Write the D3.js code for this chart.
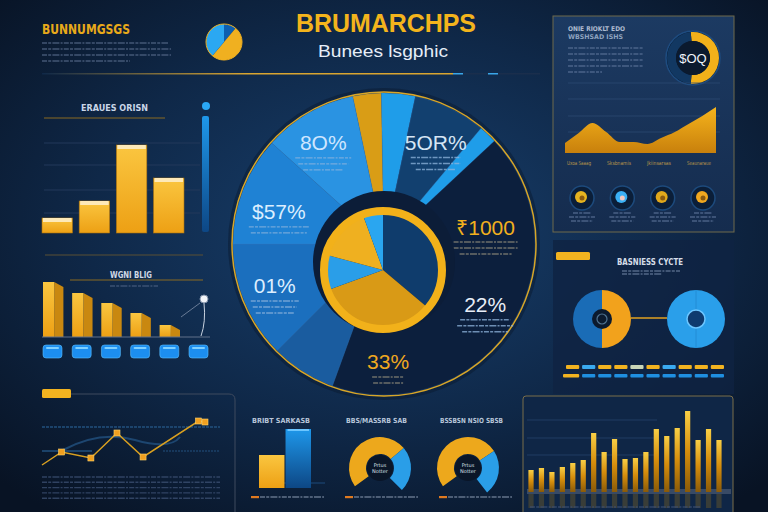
<!DOCTYPE html>
<html>
<head>
<meta charset="utf-8">
<script src="https://cdn.jsdelivr.net/npm/d3@7"></script>
<style>
body { margin: 0; background: #0a1730; }
svg { display: block; }
</style>
</head>
<body>
<svg id="chart" width="768" height="512"></svg>
<script>
// ---- data ----
var mainTitle = "BRUMARCHPS";
var subTitle = "Bunees lsgphic";
var cornerTitle = "BUNNUMGSGS";

var mainSegments = [11, 13, 28, 7, 153, 25, 45, 42, 36];
var mainColors = ["#d99d16", "#1f9de9", "#12406f", "#1f9de9", "#0c1f3d", "#1a5c9f", "#1b6fbe", "#1f82d4", "#2a93e2"];
var innerSegments = [130, 120, 35, 55, 20];
var innerColors = ["#0f3c6c", "#d99a16", "#2a9ee8", "#efb020", "#2aa6f0"];
var pieLabels = ["8O%", "5OR%", "$57%", "01%", "₹1000", "22%", "33%"];

var cornerPie = [40, 180, 140];
var cornerPieColors = ["#0d5fb0", "#f0b020", "#2ba8f2"];

var revenueBars = [15, 32, 88, 55];
var declineBars = [55, 44, 34, 24, 12];
var declineIcons = [1, 2, 3, 4, 5, 6];

var areaValues = [10, 20, 30, 21, 11, 11, 9, 15, 21, 29, 37, 46];
var areaLabels = ["Uxoa Saaag", "Sksbnamis", "Jkiinsarsas", "Seaunaraue"];
var iconColors = ["#e6b420", "#3ab0f5", "#e0a81c", "#f0a820"];

var cycleShares = [50, 50];
var cycleRow1 = ["#f2b320", "#3aaaf0", "#f2b320", "#f2b320", "#c9d6b8", "#f2b320", "#3aaaf0", "#f2b320", "#f2b320", "#f2b320"];
var cycleRow2 = ["#f2b320", "#1f8fe0", "#1f8fe0", "#1f8fe0", "#1f8fe0", "#1f8fe0", "#1f8fe0", "#1f8fe0", "#1f8fe0", "#1f8fe0"];

var trendX = [0, 12, 30, 46, 62, 96, 100];
var trendY = [5, 18, 12, 37, 13, 49, 48];

var miniBars = [33, 59];
var gaugeA = [176, 85];
var gaugeB = [183, 85];
var bottomTitles = ["BRIBT SARKASB", "BBS/MASSRB SAB", "BSSBSN NSIO SBSB"];

var monthlyBars = [22, 24, 20, 25, 29, 32, 59, 40, 53, 33, 34, 40, 63, 56, 64, 81, 52, 63, 52];

// ---- drawing ----
var svg = d3.select("#chart");
var defs = svg.append("defs");
var rad = Math.PI / 180;

function linGrad(id, stops, x2, y2) {
    var g = defs.append("linearGradient").attr("id", id)
        .attr("x1", 0).attr("y1", 0).attr("x2", x2).attr("y2", y2);
    stops.forEach(function(s, i) {
        g.append("stop").attr("offset", (i / (stops.length - 1) * 100) + "%").attr("stop-color", s);
    });
}

var bg = defs.append("radialGradient").attr("id", "bg").attr("cx", "50%").attr("cy", "45%").attr("r", "70%");
bg.append("stop").attr("offset", "0%").attr("stop-color", "#18406e");
bg.append("stop").attr("offset", "55%").attr("stop-color", "#0f2848");
bg.append("stop").attr("offset", "100%").attr("stop-color", "#081324");

linGrad("goldV", ["#fac640", "#eda014"], 0, 1);
linGrad("goldBar", ["#f9cf45", "#d58d0c", "#8a5a08"], 0, 1);
linGrad("areaGold", ["#f6b41c", "#c8800c"], 0, 1);
linGrad("blueV", ["#1e97ea", "#0d4785"], 0, 1);
linGrad("goldLine", ["#0f2848", "#d9a530", "#d9a530"], 1, 0);
linGrad("panelTR", ["#1c3a62", "#152c4e"], 0, 1);

svg.append("rect").attr("width", 768).attr("height", 512).attr("fill", "url(#bg)");

// small unreadable print, drawn as dashed strokes
function smallPrint(g, x, y, widths, color, gap, anchor) {
    g.selectAll(null).data(widths).enter().append("line")
        .attr("x1", function(d) { return anchor === "middle" ? x - d / 2 : x; })
        .attr("x2", function(d) { return anchor === "middle" ? x + d / 2 : x + d; })
        .attr("y1", function(d, i) { return y + i * gap; })
        .attr("y2", function(d, i) { return y + i * gap; })
        .attr("stroke", color).attr("stroke-width", 1.4).attr("stroke-opacity", 0.75)
        .attr("stroke-dasharray", "5 1.2 3 1.2 7 1.2 2 1.2");
}

// ---- header ----
svg.append("text").attr("x", 386).attr("y", 32).attr("text-anchor", "middle")
    .attr("font-family", "Liberation Sans").attr("font-weight", "bold").attr("font-size", 25)
    .attr("textLength", 180).attr("lengthAdjust", "spacingAndGlyphs")
    .attr("fill", "#f3b41c").text(mainTitle);
svg.append("text").attr("x", 383).attr("y", 57).attr("text-anchor", "middle")
    .attr("font-family", "Liberation Sans").attr("font-size", 17)
    .attr("textLength", 130).attr("lengthAdjust", "spacingAndGlyphs")
    .attr("fill", "#e6eef8").text(subTitle);

svg.append("text").attr("x", 42).attr("y", 34)
    .attr("font-family", "DejaVu Sans Condensed").attr("font-weight", "bold").attr("font-size", 14)
    .attr("textLength", 88).attr("lengthAdjust", "spacingAndGlyphs")
    .attr("fill", "#e8a91a").text(cornerTitle);
smallPrint(svg, 42, 43, [126, 129, 129, 88], "#56698a", 6, "start");

svg.append("rect").attr("x", 42).attr("y", 73).attr("width", 411).attr("height", 1.5).attr("fill", "url(#goldLine)");
svg.append("rect").attr("x", 453).attr("y", 73).attr("width", 10).attr("height", 1.5).attr("fill", "#3aa6e8");
svg.append("rect").attr("x", 463).attr("y", 73).attr("width", 25).attr("height", 1.5).attr("fill", "#1a2e4c");
svg.append("rect").attr("x", 488).attr("y", 73).attr("width", 10).attr("height", 1.5).attr("fill", "#3aa6e8");
svg.append("rect").attr("x", 498).attr("y", 73).attr("width", 42).attr("height", 1.5).attr("fill", "#1a2e4c");

var cornerArc = d3.arc().innerRadius(0).outerRadius(18);
var gCorner = svg.append("g").attr("transform", "translate(224,42)");
gCorner.selectAll("path").data(d3.pie().sort(null)(cornerPie)).enter().append("path")
    .attr("d", cornerArc).attr("fill", function(d, i) { return cornerPieColors[i]; });
gCorner.append("circle").attr("r", 18).attr("fill", "none").attr("stroke", "#f0b020").attr("stroke-width", 1);

// ---- left bar chart ----
var gLeft = svg.append("g");
gLeft.append("text").attr("x", 81).attr("y", 111)
    .attr("font-family", "DejaVu Sans Condensed").attr("font-weight", "bold").attr("font-size", 9)
    .attr("textLength", 67).attr("lengthAdjust", "spacingAndGlyphs")
    .attr("fill", "#c9d6e8").text("ERAUES ORISN");
gLeft.append("line").attr("x1", 44).attr("x2", 165).attr("y1", 118).attr("y2", 118)
    .attr("stroke", "#8a6a22").attr("stroke-width", 1);

var xRev = d3.scaleBand().domain(d3.range(revenueBars.length)).range([42, 184]).paddingInner(0.18);
var yRev = d3.scaleLinear().domain([0, 100]).range([233, 133]);
gLeft.selectAll(".grid").data([20, 43, 68, 90]).enter().append("line")
    .attr("x1", 44).attr("x2", 200)
    .attr("y1", function(d) { return yRev(d); }).attr("y2", function(d) { return yRev(d); })
    .attr("stroke", "#22385a").attr("stroke-width", 1);
gLeft.selectAll(".bar").data(revenueBars).enter().append("rect")
    .attr("x", function(d, i) { return xRev(i); })
    .attr("y", function(d) { return yRev(d); })
    .attr("width", xRev.bandwidth())
    .attr("height", function(d) { return yRev(0) - yRev(d); })
    .attr("fill", "url(#goldV)").attr("stroke", "#a87010").attr("stroke-width", 0.6);
gLeft.selectAll(".cap").data(revenueBars).enter().append("rect")
    .attr("x", function(d, i) { return xRev(i) + 1; })
    .attr("y", function(d) { return yRev(d); })
    .attr("width", xRev.bandwidth() - 2).attr("height", 4)
    .attr("fill", "#fde9b8");
gLeft.append("rect").attr("x", 202).attr("y", 116).attr("width", 7).attr("height", 116)
    .attr("rx", 2).attr("fill", "url(#blueV)");
gLeft.append("circle").attr("cx", 206).attr("cy", 106).attr("r", 4).attr("fill", "#2aa8f5");

// ---- declining 3D bars ----
var gDec = svg.append("g");
gDec.append("line").attr("x1", 45).attr("x2", 203).attr("y1", 255).attr("y2", 255)
    .attr("stroke", "#5a5034").attr("stroke-width", 1);
gDec.append("line").attr("x1", 70).attr("x2", 203).attr("y1", 280).attr("y2", 280)
    .attr("stroke", "#8a6a22").attr("stroke-width", 1);
gDec.append("text").attr("x", 110).attr("y", 278)
    .attr("font-family", "DejaVu Sans Condensed").attr("font-weight", "bold").attr("font-size", 9)
    .attr("textLength", 42).attr("lengthAdjust", "spacingAndGlyphs")
    .attr("fill", "#d0d8e4").text("WGNI BLIG");
smallPrint(gDec, 110, 286, [48], "#4a5f80", 5, "start");

var xDec = d3.scaleBand().domain(d3.range(declineBars.length)).range([43, 180]).paddingInner(0.3);
var yDec = d3.scaleLinear().domain([0, 60]).range([337, 277]);
var bw = xDec.bandwidth();
gDec.selectAll(".side").data(declineBars).enter().append("path")
    .attr("d", function(d, i) {
        var x0 = xDec(i) + bw * 0.55, x1 = xDec(i) + bw, y0 = yDec(d);
        return "M" + x0 + "," + y0 + "L" + x1 + "," + (y0 + 5) + "L" + x1 + "," + yDec(0) + "L" + x0 + "," + yDec(0) + "Z";
    })
    .attr("fill", "#c98810");
gDec.selectAll(".front").data(declineBars).enter().append("rect")
    .attr("x", function(d, i) { return xDec(i); })
    .attr("y", function(d) { return yDec(d); })
    .attr("width", bw * 0.55)
    .attr("height", function(d) { return yDec(0) - yDec(d); })
    .attr("fill", "url(#goldV)");
gDec.append("line").attr("x1", 42).attr("x2", 210).attr("y1", 337).attr("y2", 337)
    .attr("stroke", "#60708a").attr("stroke-width", 1);

var xIcon = d3.scaleBand().domain(declineIcons).range([43, 208]).paddingInner(0.35);
gDec.selectAll(".icon").data(declineIcons).enter().append("rect")
    .attr("x", function(d) { return xIcon(d); }).attr("y", 345)
    .attr("width", xIcon.bandwidth()).attr("height", 13).attr("rx", 3)
    .attr("fill", "#1c8ef0").attr("stroke", "#5cc0ff").attr("stroke-width", 0.6);
gDec.selectAll(".iconTop").data(declineIcons).enter().append("rect")
    .attr("x", function(d) { return xIcon(d) + 3; }).attr("y", 347)
    .attr("width", xIcon.bandwidth() - 6).attr("height", 2).attr("rx", 1)
    .attr("fill", "#7fd0ff");
gDec.append("line").attr("x1", 181).attr("y1", 317).attr("x2", 200).attr("y2", 303)
    .attr("stroke", "#7f8fa8").attr("stroke-width", 0.8);
gDec.append("path").attr("d", "M204,303 Q206,322 201,336")
    .attr("fill", "none").attr("stroke", "#c8d2e0").attr("stroke-width", 1);
gDec.append("circle").attr("cx", 204).attr("cy", 299).attr("r", 4)
    .attr("fill", "#f2f4f8").attr("stroke", "#8090a8");

// ---- central pie ----
var cx = 384, cy = 244;
var pieMain = d3.pie().sort(null).startAngle(-12 * rad).endAngle(348 * rad);
var arcMain = d3.arc().innerRadius(0).outerRadius(151);
var gMain = svg.append("g").attr("transform", "translate(" + cx + "," + cy + ")");
gMain.append("circle").attr("r", 156).attr("fill", "#0a1a30").attr("opacity", 0.5);
gMain.selectAll("path").data(pieMain(mainSegments)).enter().append("path")
    .attr("d", arcMain).attr("fill", function(d, i) { return mainColors[i]; })
    .attr("stroke", "#3a7cc0").attr("stroke-width", 0.4).attr("stroke-opacity", 0.6);
gMain.append("circle").attr("r", 152).attr("fill", "none").attr("stroke", "#d8a628").attr("stroke-width", 1.5);

var labelSpots = [
    { a: -31, r: 118, c: "#cfe6ff", lines: [56, 50, 40] },
    { a: 27, r: 114, c: "#d6e6f5", lines: [50, 50, 40] },
    { a: -73, r: 110, c: "#dbeeff", lines: [60, 56] },
    { a: -111, r: 117, c: "#dbeeff", lines: [48, 44, 38] },
    { a: 80.5, r: 103, c: "#f2b01e", lines: [64, 64, 52] },
    { a: 121, r: 118, c: "#e8eef8", lines: [50, 56, 46] },
    { a: 178, r: 118, c: "#f0a820", lines: [32, 30] }
];
labelSpots.forEach(function(s, i) {
    var lx = s.r * Math.sin(s.a * rad), ly = -s.r * Math.cos(s.a * rad);
    gMain.append("text").attr("x", lx).attr("y", ly).attr("dy", "0.36em")
        .attr("text-anchor", "middle").attr("font-family", "Liberation Sans")
        .attr("font-size", 21).attr("fill", s.c).text(pieLabels[i]);
    smallPrint(gMain, lx, ly + 15, s.lines, i === 4 || i === 6 ? "#8c8a7a" : "#8fb4dc", 6, "middle");
});

// inner pie with gold ring
var ix = 383, iy = 270;
svg.append("circle").attr("cx", 384).attr("cy", 262).attr("r", 71).attr("fill", "#0c1d38");
var gInner = svg.append("g").attr("transform", "translate(" + ix + "," + iy + ")");
var arcInner = d3.arc().innerRadius(0).outerRadius(57);
gInner.selectAll("path").data(d3.pie().sort(null)(innerSegments)).enter().append("path")
    .attr("d", arcInner).attr("fill", function(d, i) { return innerColors[i]; });
gInner.append("circle").attr("r", 59).attr("fill", "none").attr("stroke", "#f2b11a").attr("stroke-width", 8);

// ---- top right panel ----
var gTR = svg.append("g");
gTR.append("rect").attr("x", 553).attr("y", 16).attr("width", 181).attr("height", 216)
    .attr("fill", "url(#panelTR)").attr("stroke", "#6f6a4c").attr("stroke-width", 1);
gTR.append("text").attr("x", 568).attr("y", 31).attr("font-family", "DejaVu Sans Condensed")
    .attr("font-weight", "bold").attr("font-size", 6.5).attr("textLength", 57).attr("lengthAdjust", "spacingAndGlyphs")
    .attr("fill", "#aebbd0").text("ONIE RIOKLT EDO");
gTR.append("text").attr("x", 568).attr("y", 39).attr("font-family", "DejaVu Sans Condensed")
    .attr("font-weight", "bold").attr("font-size", 6.5).attr("textLength", 55).attr("lengthAdjust", "spacingAndGlyphs")
    .attr("fill", "#8ea3bf").text("WBSHSAD ISHS");
smallPrint(gTR, 568, 48, [75, 75, 75, 75, 34], "#5b7398", 6, "start");

var gDonut = gTR.append("g").attr("transform", "translate(693,58)");
gDonut.append("circle").attr("r", 27).attr("fill", "#0a1b33").attr("stroke", "#1e4c80").attr("stroke-width", 1.5);
gDonut.append("path").attr("d", d3.arc().innerRadius(17).outerRadius(26).startAngle(-5 * rad).endAngle(185 * rad)())
    .attr("fill", "#f2b11a");
gDonut.append("path").attr("d", d3.arc().innerRadius(17).outerRadius(26).startAngle(185 * rad).endAngle(355 * rad)())
    .attr("fill", "#123862");
gDonut.append("circle").attr("r", 17).attr("fill", "#0b1a2e");
gDonut.append("text").attr("y", 5).attr("text-anchor", "middle").attr("font-family", "Liberation Sans")
    .attr("font-size", 13).attr("fill", "#f0f4fa").text("$OQ");

var xArea = d3.scaleLinear().domain([0, areaValues.length - 1]).range([565, 716]);
var yArea = d3.scaleLinear().domain([0, 50]).range([153, 103]);
gTR.selectAll(".grid").data([70, 54, 37, 21]).enter().append("line")
    .attr("x1", 568).attr("x2", 720)
    .attr("y1", function(d) { return yArea(d); }).attr("y2", function(d) { return yArea(d); })
    .attr("stroke", "#2c4a72").attr("stroke-width", 0.8);
var area = d3.area().x(function(d, i) { return xArea(i); }).y0(yArea(0)).y1(function(d) { return yArea(d); })
    .curve(d3.curveMonotoneX);
gTR.append("path").datum(areaValues).attr("d", area).attr("fill", "url(#areaGold)");
var xAreaLab = d3.scalePoint().domain(areaLabels).range([579, 699]);
gTR.selectAll(".alab").data(areaLabels).enter().append("text")
    .attr("x", function(d) { return xAreaLab(d); }).attr("y", 165).attr("text-anchor", "middle")
    .attr("font-family", "DejaVu Sans Condensed").attr("font-size", 5.5)
    .attr("textLength", 24).attr("lengthAdjust", "spacingAndGlyphs")
    .attr("fill", "#b8954a").text(function(d) { return d; });

var xIc = d3.scalePoint().domain(d3.range(iconColors.length)).range([582, 703]);
var gIc = gTR.selectAll(".ic").data(iconColors).enter().append("g")
    .attr("transform", function(d, i) { return "translate(" + xIc(i) + ",198)"; });
gIc.append("circle").attr("r", 12).attr("fill", "#0b1e38").attr("stroke", "#1d4a7c").attr("stroke-width", 1.5);
gIc.append("circle").attr("r", 6).attr("cx", -1).attr("cy", -1).attr("fill", function(d) { return d; });
gIc.append("circle").attr("r", 2.5).attr("cx", 0).attr("cy", 0)
    .attr("fill", function(d, i) { return i === 1 ? "#f0c8c0" : "#8a5a10"; });
iconColors.forEach(function(c, i) {
    smallPrint(gTR, xIc(i), 213, [18, 26, 22], "#5b7398", 4, "middle");
});

// ---- business cycle panel ----
var gBC = svg.append("g");
gBC.append("rect").attr("x", 553).attr("y", 240).attr("width", 181).attr("height", 154)
    .attr("fill", "#0f2342").attr("fill-opacity", 0.8);
gBC.append("rect").attr("x", 556).attr("y", 252).attr("width", 34).attr("height", 8).attr("rx", 1.5)
    .attr("fill", "#f2b320");
gBC.append("text").attr("x", 617).attr("y", 265).attr("font-family", "DejaVu Sans Condensed")
    .attr("font-weight", "bold").attr("font-size", 8).attr("textLength", 66).attr("lengthAdjust", "spacingAndGlyphs")
    .attr("fill", "#d5dde8").text("BASNIESS CYCTE");
smallPrint(gBC, 622, 271, [58, 40], "#6a7f9e", 3, "start");

gBC.append("line").attr("x1", 631).attr("x2", 667).attr("y1", 318).attr("y2", 318)
    .attr("stroke", "#e0a020").attr("stroke-width", 1.5);
var arcCycle = d3.arc().innerRadius(0).outerRadius(29);
var gCyc = gBC.append("g").attr("transform", "translate(602,319)");
gCyc.selectAll("path").data(d3.pie().sort(null)(cycleShares)).enter().append("path")
    .attr("d", arcCycle).attr("fill", function(d, i) { return i === 0 ? "#f2a21c" : "#1a6cb6"; });
gCyc.append("circle").attr("r", 10).attr("fill", "#0b1a2e");
gCyc.append("circle").attr("r", 5).attr("fill", "none").attr("stroke", "#4f7290").attr("stroke-width", 1.2);
var gCyc2 = gBC.append("g").attr("transform", "translate(696,319)");
gCyc2.append("circle").attr("r", 29).attr("fill", "#2a9fea");
gCyc2.append("line").attr("y1", -29).attr("y2", 29).attr("stroke", "#2288d0").attr("stroke-width", 0.8);
gCyc2.append("circle").attr("r", 9).attr("fill", "#0e3a6e").attr("stroke", "#6cc6ff").attr("stroke-width", 1.5);

var xRow = d3.scaleBand().domain(d3.range(cycleRow1.length)).range([566, 724]).paddingInner(0.18);
gBC.selectAll(".r1").data(cycleRow1).enter().append("rect")
    .attr("x", function(d, i) { return xRow(i); }).attr("y", 365)
    .attr("width", xRow.bandwidth()).attr("height", 4).attr("rx", 1)
    .attr("fill", function(d) { return d; });
gBC.selectAll(".r2").data(cycleRow2).enter().append("rect")
    .attr("x", function(d, i) { return xRow(i) - (i === 0 ? 3 : 0); }).attr("y", 374)
    .attr("width", function(d, i) { return xRow.bandwidth() + (i === 0 ? 3 : 0); }).attr("height", 3.5).attr("rx", 1)
    .attr("fill", function(d) { return d; });

// ---- bottom left trend ----
var gTrend = svg.append("g");
gTrend.append("path").attr("d", "M70,394 L229,394 Q235,394 235,400 L235,512")
    .attr("fill", "none").attr("stroke", "#3e4a5e").attr("stroke-width", 1);
gTrend.append("rect").attr("x", 42).attr("y", 389).attr("width", 29).attr("height", 9).attr("rx", 1.5)
    .attr("fill", "#f2b320");
var xTrend = d3.scaleLinear().domain([0, 100]).range([42, 205]);
var yTrend = d3.scaleLinear().domain([0, 60]).range([470, 410]);
gTrend.append("line").attr("x1", 42).attr("x2", 220).attr("y1", 427).attr("y2", 427)
    .attr("stroke", "#22507e").attr("stroke-width", 1.5).attr("stroke-dasharray", "3 1");
gTrend.append("line").attr("x1", 42).attr("x2", 92).attr("y1", 451).attr("y2", 451)
    .attr("stroke", "#22507e").attr("stroke-width", 1.5);
gTrend.append("line").attr("x1", 163).attr("x2", 220).attr("y1", 451).attr("y2", 451)
    .attr("stroke", "#22507e").attr("stroke-width", 1.2).attr("stroke-dasharray", "2 1");
gTrend.append("path").attr("d", "M63,450 Q100,430 135,440 T180,437")
    .attr("fill", "none").attr("stroke", "#1d4670").attr("stroke-width", 2);
var trendLine = d3.line().x(function(d, i) { return xTrend(trendX[i]); }).y(function(d) { return yTrend(d); });
gTrend.append("path").datum(trendY).attr("d", trendLine)
    .attr("fill", "none").attr("stroke", "#d9a020").attr("stroke-width", 1.5);
gTrend.selectAll(".mk").data(trendY).enter().append("rect")
    .attr("x", function(d, i) { return xTrend(trendX[i]) - 3; })
    .attr("y", function(d) { return yTrend(d) - 3; })
    .attr("width", 6).attr("height", 6)
    .attr("fill", "#f0a020").attr("stroke", "#ffd26a").attr("stroke-width", 0.6)
    .attr("opacity", function(d, i) { return i === 0 ? 0 : 1; });
smallPrint(gTrend, 42, 477, [178, 178, 178, 178, 178], "#3d5274", 5.3, "start");

// ---- bottom middle minis ----
var gMini = svg.append("g");
var titleX = [252, 346, 440];
bottomTitles.forEach(function(t, i) {
    gMini.append("text").attr("x", titleX[i]).attr("y", 423)
        .attr("font-family", "DejaVu Sans Condensed").attr("font-weight", "bold").attr("font-size", 7)
        .attr("textLength", [58, 61, 63][i]).attr("lengthAdjust", "spacingAndGlyphs")
        .attr("fill", "#b8c6da").text(t);
    gMini.append("rect").attr("x", titleX[i] - 1).attr("y", 496).attr("width", 8).attr("height", 2.2)
        .attr("fill", "#e07a20");
    smallPrint(gMini, titleX[i] + 8, 497, [64], "#8090a8", 4, "start");
});
var xMini = d3.scaleBand().domain(d3.range(miniBars.length)).range([259, 311]).paddingInner(0.04);
var yMini = d3.scaleLinear().domain([0, 60]).range([488, 428]);
gMini.append("line").attr("x1", 272).attr("x2", 325).attr("y1", 483).attr("y2", 483)
    .attr("stroke", "#1d4a7c").attr("stroke-width", 1);
gMini.selectAll(".mb").data(miniBars).enter().append("rect")
    .attr("x", function(d, i) { return xMini(i); })
    .attr("y", function(d) { return yMini(d); })
    .attr("width", xMini.bandwidth())
    .attr("height", function(d) { return yMini(0) - yMini(d); })
    .attr("fill", function(d, i) { return i === 0 ? "url(#goldV)" : "url(#blueV)"; });
gMini.append("rect").attr("x", xMini(1) + 2).attr("y", yMini(miniBars[1])).attr("width", xMini.bandwidth() - 4)
    .attr("height", 2).attr("fill", "#6cc6ff");

function gauge(g, x, y, vals) {
    var p = d3.pie().sort(null).startAngle(-126 * rad).endAngle((-126 + d3.sum(vals)) * rad);
    var a = d3.arc().innerRadius(14).outerRadius(31);
    var gg = g.append("g").attr("transform", "translate(" + x + "," + y + ")");
    gg.selectAll("path").data(p(vals)).enter().append("path")
        .attr("d", a).attr("fill", function(d, i) { return i === 0 ? "#eda81c" : "#2a9ee8"; });
    gg.append("circle").attr("r", 13).attr("fill", "#0a1628");
    gg.append("text").attr("y", -1).attr("text-anchor", "middle").attr("font-family", "DejaVu Sans")
        .attr("font-size", 5).attr("fill", "#d8e0ea").text("Prtus");
    gg.append("text").attr("y", 5).attr("text-anchor", "middle").attr("font-family", "DejaVu Sans")
        .attr("font-size", 5).attr("fill", "#d8e0ea").text("Notter");
}
gauge(gMini, 380, 468, gaugeA);
gauge(gMini, 468, 468, gaugeB);

// ---- bottom right monthly bars ----
var gMon = svg.append("g");
gMon.append("rect").attr("x", 523).attr("y", 396).attr("width", 210).attr("height", 120).attr("rx", 3)
    .attr("fill", "#0f2646").attr("stroke", "#7a6e4a").attr("stroke-width", 1);
var xMon = d3.scaleBand().domain(d3.range(monthlyBars.length)).range([525.8, 724.2]).paddingInner(0.5).paddingOuter(0.25);
var yMon = d3.scaleLinear().domain([0, 90]).range([492, 402]);
gMon.selectAll(".grid").data([72, 54, 37]).enter().append("line")
    .attr("x1", 527).attr("x2", 657)
    .attr("y1", function(d) { return yMon(d); }).attr("y2", function(d) { return yMon(d); })
    .attr("stroke", "#25426a").attr("stroke-width", 0.8);
gMon.append("rect").attr("x", 527).attr("y", 489).attr("width", 204).attr("height", 5)
    .attr("fill", "#4a5a72").attr("opacity", 0.7);
gMon.selectAll(".refl").data(monthlyBars).enter().append("rect")
    .attr("x", function(d, i) { return xMon(i); }).attr("y", 494)
    .attr("width", xMon.bandwidth()).attr("height", 14)
    .attr("fill", "#8a6a20").attr("opacity", 0.35);
gMon.selectAll(".mbar").data(monthlyBars).enter().append("rect")
    .attr("x", function(d, i) { return xMon(i); })
    .attr("y", function(d) { return yMon(d); })
    .attr("width", xMon.bandwidth())
    .attr("height", function(d) { return yMon(0) - yMon(d); })
    .attr("fill", "url(#goldBar)");
smallPrint(gMon, 530, 507, [170], "#3d5274", 5, "start");
</script>
</body>
</html>
